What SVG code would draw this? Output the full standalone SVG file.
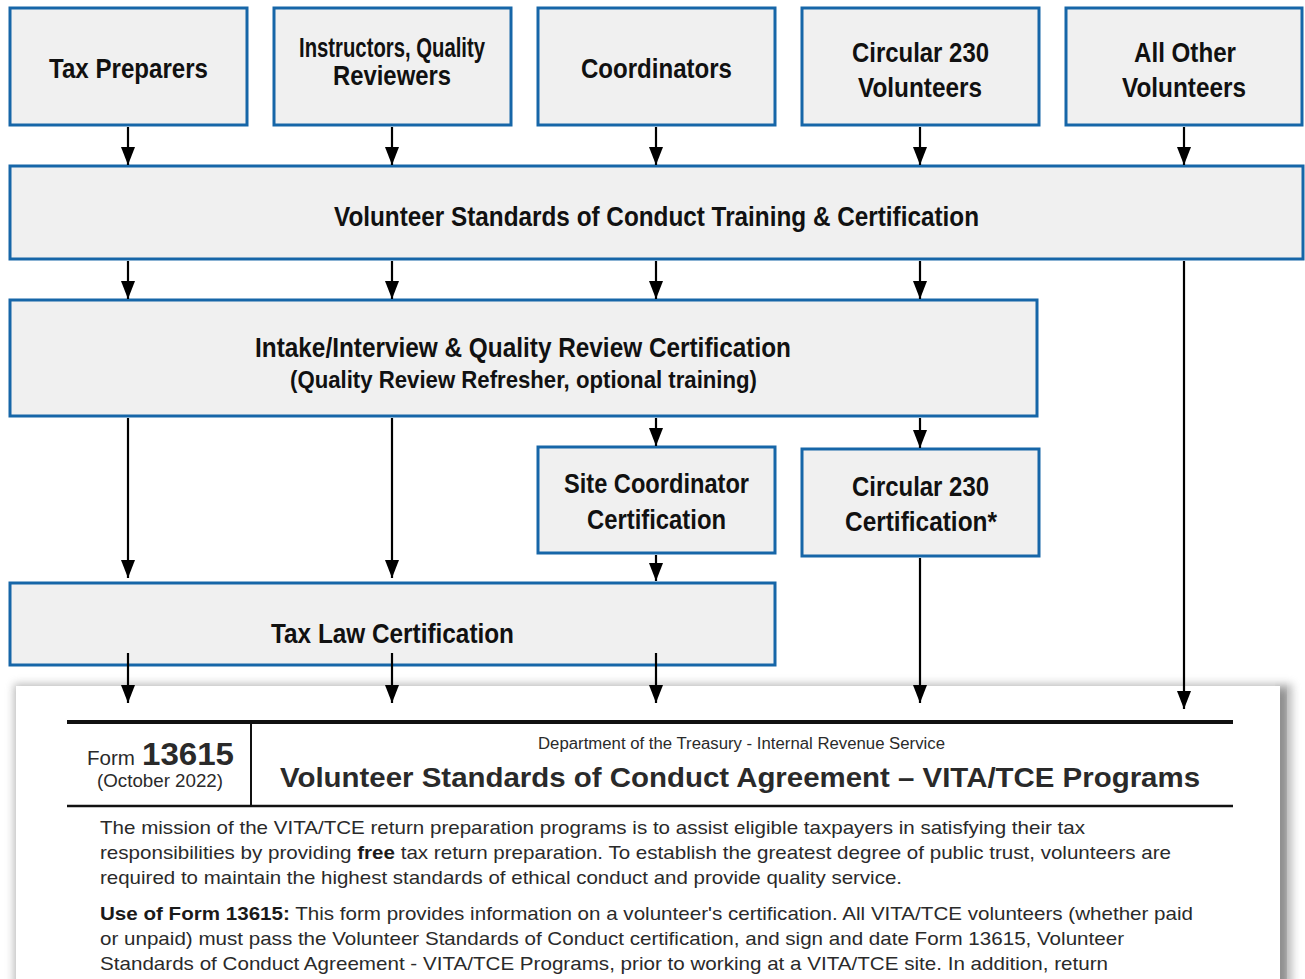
<svg xmlns="http://www.w3.org/2000/svg" width="1305" height="979" viewBox="0 0 1305 979">
  <defs>
    <style>
      .box { fill: #f0f0f0; stroke: #1666a8; stroke-width: 3; }
      .lbl { font-family: "Liberation Sans", Arial, sans-serif; font-weight: bold; fill: #111; text-anchor: middle; }
      .form { font-family: "Liberation Sans", Arial, sans-serif; fill: #2a2a2a; }
      .rule { stroke: #111; fill: none; }
    </style>
    <marker id="tri" markerUnits="userSpaceOnUse" markerWidth="18" markerHeight="14" viewBox="0 0 18 14" refX="18" refY="7" orient="auto">
      <path d="M0,0 L18,7 L0,14 Z" fill="#000"/>
    </marker>
    <filter id="cardShadow" x="-5%" y="-20%" width="110%" height="140%">
      <feGaussianBlur stdDeviation="4"/>
    </filter>
  </defs>

  <rect width="1305" height="979" fill="#ffffff"/>

  <!-- pasted form excerpt -->
  <g id="form-13615">
    <rect x="14" y="684" width="1278" height="310" fill="#8a8a8a" filter="url(#cardShadow)" opacity="0.6"/>
    <rect x="1276" y="690" width="10" height="300" fill="#6f6f6f" filter="url(#cardShadow)" opacity="0.7"/>
    <rect x="16" y="686" width="1264" height="300" fill="#ffffff"/>
    <line class="rule" x1="67" y1="722" x2="1233" y2="722" stroke-width="4"/>
    <line class="rule" x1="67" y1="806" x2="1233" y2="806" stroke-width="2.5"/>
    <line class="rule" x1="251" y1="724" x2="251" y2="806" stroke-width="2"/>
    <text class="form" x="87" y="765" font-size="20" textLength="48" lengthAdjust="spacingAndGlyphs">Form</text>
    <text class="form" x="142" y="765" font-size="32" font-weight="bold" fill="#1a1a1a" textLength="92" lengthAdjust="spacingAndGlyphs">13615</text>
    <text class="form" x="97" y="787" font-size="18" textLength="126" lengthAdjust="spacingAndGlyphs">(October 2022)</text>
    <text class="form" x="538" y="749" font-size="16" textLength="407" lengthAdjust="spacingAndGlyphs">Department of the Treasury - Internal Revenue Service</text>
    <text class="form" x="280" y="787" font-size="27" font-weight="bold" fill="#1a1a1a" textLength="920" lengthAdjust="spacingAndGlyphs">Volunteer Standards of Conduct Agreement – VITA/TCE Programs</text>
    <g font-size="19">
      <text class="form" x="100" y="834" textLength="985" lengthAdjust="spacingAndGlyphs">The mission of the VITA/TCE return preparation programs is to assist eligible taxpayers in satisfying their tax</text>
      <text class="form" x="100" y="859" textLength="1071" lengthAdjust="spacingAndGlyphs">responsibilities by providing <tspan font-weight="bold" fill="#1a1a1a">free</tspan> tax return preparation. To establish the greatest degree of public trust, volunteers are</text>
      <text class="form" x="100" y="884" textLength="802" lengthAdjust="spacingAndGlyphs">required to maintain the highest standards of ethical conduct and provide quality service.</text>
      <text class="form" x="100" y="920" textLength="1093" lengthAdjust="spacingAndGlyphs"><tspan font-weight="bold" fill="#1a1a1a">Use of Form 13615:</tspan> This form provides information on a volunteer's certification. All VITA/TCE volunteers (whether paid</text>
      <text class="form" x="100" y="945" textLength="1024" lengthAdjust="spacingAndGlyphs">or unpaid) must pass the Volunteer Standards of Conduct certification, and sign and date Form 13615, Volunteer</text>
      <text class="form" x="100" y="970" textLength="1008" lengthAdjust="spacingAndGlyphs">Standards of Conduct Agreement - VITA/TCE Programs, prior to working at a VITA/TCE site. In addition, return</text>
    </g>
  </g>

  <!-- top row: volunteer roles -->
  <g id="tax-preparers">
    <rect class="box" x="10" y="8" width="237" height="117"/>
    <text class="lbl" x="128.5" y="78" font-size="28" textLength="159" lengthAdjust="spacingAndGlyphs">Tax Preparers</text>
  </g>
  <g id="instructors-reviewers">
    <rect class="box" x="274" y="8" width="237" height="117"/>
    <text class="lbl" x="392" y="57" font-size="28" textLength="186" lengthAdjust="spacingAndGlyphs">Instructors, Quality</text>
    <text class="lbl" x="392" y="85" font-size="28" textLength="118" lengthAdjust="spacingAndGlyphs">Reviewers</text>
  </g>
  <g id="coordinators">
    <rect class="box" x="538" y="8" width="237" height="117"/>
    <text class="lbl" x="656.5" y="78" font-size="28" textLength="151" lengthAdjust="spacingAndGlyphs">Coordinators</text>
  </g>
  <g id="circular-230-volunteers">
    <rect class="box" x="802" y="8" width="237" height="117"/>
    <text class="lbl" x="920.5" y="62" font-size="28" textLength="137" lengthAdjust="spacingAndGlyphs">Circular 230</text>
    <text class="lbl" x="920" y="97" font-size="28" textLength="124" lengthAdjust="spacingAndGlyphs">Volunteers</text>
  </g>
  <g id="all-other-volunteers">
    <rect class="box" x="1066" y="8" width="236" height="117"/>
    <text class="lbl" x="1185" y="62" font-size="28" textLength="102" lengthAdjust="spacingAndGlyphs">All Other</text>
    <text class="lbl" x="1184" y="97" font-size="28" textLength="124" lengthAdjust="spacingAndGlyphs">Volunteers</text>
  </g>

  <!-- certification steps -->
  <g id="standards-of-conduct">
    <rect class="box" x="10" y="166" width="1293" height="93"/>
    <text class="lbl" x="656.5" y="226" font-size="28" textLength="645" lengthAdjust="spacingAndGlyphs">Volunteer Standards of Conduct Training &amp; Certification</text>
  </g>
  <g id="intake-quality-review">
    <rect class="box" x="10" y="300" width="1027" height="116"/>
    <text class="lbl" x="523" y="357" font-size="28" textLength="536" lengthAdjust="spacingAndGlyphs">Intake/Interview &amp; Quality Review Certification</text>
    <text class="lbl" x="523.5" y="388" font-size="24" textLength="467" lengthAdjust="spacingAndGlyphs">(Quality Review Refresher, optional training)</text>
  </g>
  <g id="site-coordinator-cert">
    <rect class="box" x="538" y="447" width="237" height="106"/>
    <text class="lbl" x="656.5" y="493" font-size="28" textLength="185" lengthAdjust="spacingAndGlyphs">Site Coordinator</text>
    <text class="lbl" x="656.5" y="529" font-size="28" textLength="139" lengthAdjust="spacingAndGlyphs">Certification</text>
  </g>
  <g id="circular-230-cert">
    <rect class="box" x="802" y="449" width="237" height="107"/>
    <text class="lbl" x="920.5" y="496" font-size="28" textLength="137" lengthAdjust="spacingAndGlyphs">Circular 230</text>
    <text class="lbl" x="921" y="531" font-size="28" textLength="152" lengthAdjust="spacingAndGlyphs">Certification*</text>
  </g>
  <g id="tax-law-cert">
    <rect class="box" x="10" y="583" width="765" height="82"/>
    <text class="lbl" x="392.5" y="643" font-size="28" textLength="243" lengthAdjust="spacingAndGlyphs">Tax Law Certification</text>
  </g>

  <!-- connectors -->
  <g id="connectors" stroke="#000" stroke-width="2.2" fill="none">
    <!-- volunteer groups to standards of conduct -->
    <line x1="128" y1="127" x2="128" y2="165" marker-end="url(#tri)"/>
    <line x1="392" y1="127" x2="392" y2="165" marker-end="url(#tri)"/>
    <line x1="656" y1="127" x2="656" y2="165" marker-end="url(#tri)"/>
    <line x1="920" y1="127" x2="920" y2="165" marker-end="url(#tri)"/>
    <line x1="1184" y1="127" x2="1184" y2="165" marker-end="url(#tri)"/>
    <!-- standards of conduct to intake/interview -->
    <line x1="128" y1="261" x2="128" y2="299" marker-end="url(#tri)"/>
    <line x1="392" y1="261" x2="392" y2="299" marker-end="url(#tri)"/>
    <line x1="656" y1="261" x2="656" y2="299" marker-end="url(#tri)"/>
    <line x1="920" y1="261" x2="920" y2="299" marker-end="url(#tri)"/>
    <!-- intake/interview onward -->
    <line x1="128" y1="418" x2="128" y2="578" marker-end="url(#tri)"/>
    <line x1="392" y1="418" x2="392" y2="578" marker-end="url(#tri)"/>
    <line x1="656" y1="418" x2="656" y2="446" marker-end="url(#tri)"/>
    <line x1="920" y1="418" x2="920" y2="448" marker-end="url(#tri)"/>
    <!-- site coordinator to tax law -->
    <line x1="656" y1="555" x2="656" y2="581" marker-end="url(#tri)"/>
    <!-- into the agreement form -->
    <line x1="128" y1="653" x2="128" y2="703" marker-end="url(#tri)"/>
    <line x1="392" y1="653" x2="392" y2="703" marker-end="url(#tri)"/>
    <line x1="656" y1="653" x2="656" y2="703" marker-end="url(#tri)"/>
    <line x1="920" y1="558" x2="920" y2="703" marker-end="url(#tri)"/>
    <line x1="1184" y1="261" x2="1184" y2="709" marker-end="url(#tri)"/>
  </g>
</svg>
